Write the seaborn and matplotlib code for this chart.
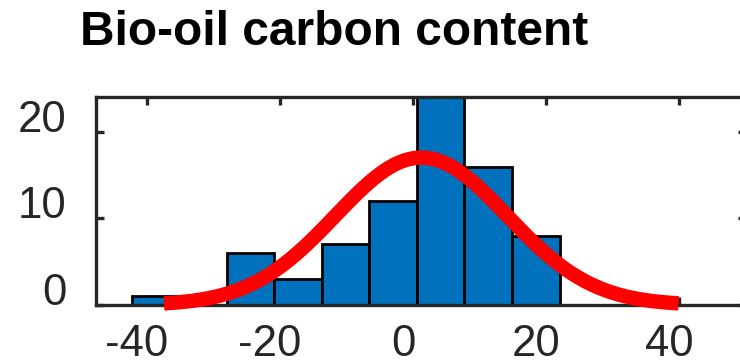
import numpy as np
import pandas as pd
import matplotlib
matplotlib.use("Agg")
import matplotlib.pyplot as plt
import matplotlib.transforms as mtransforms
import seaborn as sns

# Histogram of bio-oil carbon content deviations with a fitted normal curve
bin_edges = [-42.24, -35.10, -27.96, -20.82, -13.68, -6.55, 0.59, 7.73, 14.87, 22.01]
counts = [1, 0, 6, 3, 7, 12, 24, 16, 8]

# Normal fit parameters
fit_mu = 1.24
fit_sigma = 12.88

x_ticks = [-40, -20, 0, 20, 40]
y_ticks = [0, 10, 20]
title_text = "Bio-oil carbon content"

sns.set_style("white")
plt.rcParams["font.family"] = ["Liberation Sans", "DejaVu Sans"]
plt.rcParams["axes.unicode_minus"] = False

bar_color = "#0072BD"
axis_color = "#262626"

fig = plt.figure(figsize=(7.4, 3.61), dpi=100)
W, H = 740, 361
left_px, right_px, top_px, bottom_px = 96, 746, 97.3, 305
ax = fig.add_axes([left_px / W, 1 - bottom_px / H,
                   (right_px - left_px) / W, (bottom_px - top_px) / H])

centers = [(a + b) / 2 for a, b in zip(bin_edges[:-1], bin_edges[1:])]
hist_df = pd.DataFrame({"value": centers, "count": counts})
sns.histplot(data=hist_df, x="value", weights="count", bins=bin_edges,
             color=bar_color, edgecolor="black", linewidth=2.0, alpha=1.0,
             ax=ax, zorder=2)

# Fitted normal density scaled to the histogram area (mean +/- 3 sigma)
n_total = sum(counts)
bin_width = bin_edges[1] - bin_edges[0]
xs = np.linspace(fit_mu - 3 * fit_sigma, fit_mu + 3 * fit_sigma, 300)
ys = n_total * bin_width * np.exp(-0.5 * ((xs - fit_mu) / fit_sigma) ** 2) / (fit_sigma * np.sqrt(2 * np.pi))
fit_df = pd.DataFrame({"x": xs, "y": ys})
sns.lineplot(data=fit_df, x="x", y="y", color="#FF0000", linewidth=10.4,
             ax=ax, zorder=5, clip_on=False, solid_capstyle="butt")

ax.set_xlim(-47.6, 50)
ax.set_ylim(0, 24)
ax.set_xticks(x_ticks)
ax.set_yticks(y_ticks)
ax.set_xticklabels([str(v) for v in x_ticks])
ax.set_yticklabels([str(v) for v in y_ticks])
ax.set_xlabel("")
ax.set_ylabel("")

for side in ["left", "right", "top", "bottom"]:
    ax.spines[side].set_visible(True)
    ax.spines[side].set_color(axis_color)
    ax.spines[side].set_linewidth(2.4)
    ax.spines[side].set_zorder(4)

ax.tick_params(axis="both", which="both", direction="in", length=5.8, width=2.4,
               color=axis_color, labelcolor=axis_color, labelsize=31.5,
               top=True, right=True, bottom=True, left=True)
ax.tick_params(axis="x", pad=13.5)
ax.tick_params(axis="y", pad=21.5)

for lab in ax.get_yticklabels():
    lab.set_verticalalignment("baseline")

shift = mtransforms.ScaledTranslation(-10 / 100, 0, fig.dpi_scale_trans)
for lab in ax.get_xticklabels():
    lab.set_transform(lab.get_transform() + shift)

fig.text(334 / W, 1 - 45 / H, title_text, ha="center", va="baseline",
         fontsize=34.5, fontweight="bold", color="black")

fig.savefig("out.png", dpi=100)
